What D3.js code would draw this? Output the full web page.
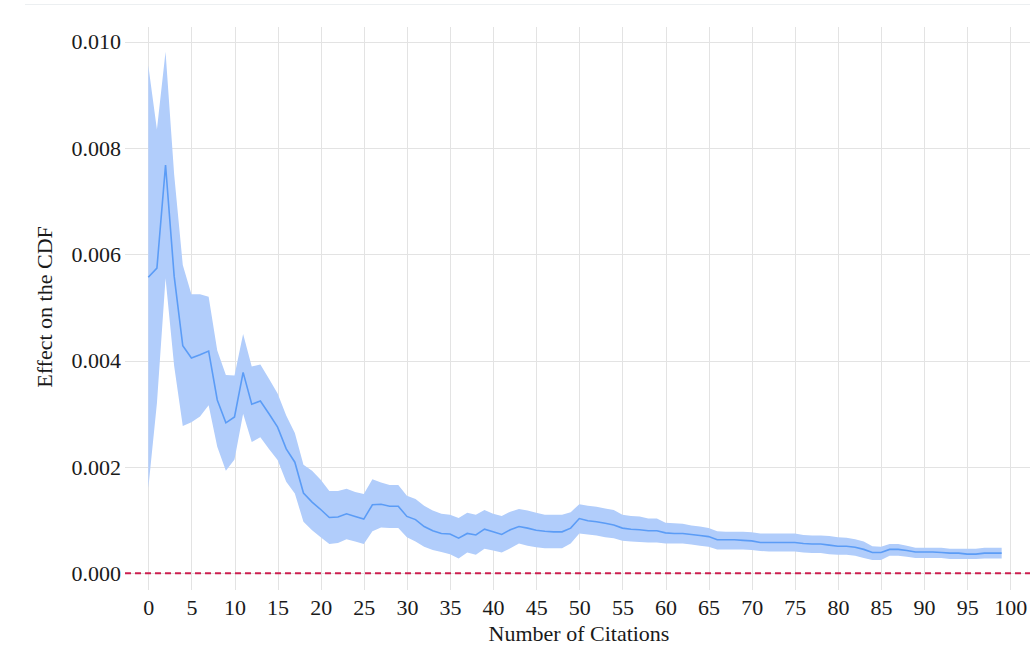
<!DOCTYPE html>
<html>
<head>
<meta charset="utf-8">
<script src="https://cdn.jsdelivr.net/npm/d3@7"></script>
<style>
  html, body { margin: 0; padding: 0; background: #fff; }
  svg { display: block; }
  text { font-family: "Liberation Serif", "Times New Roman", serif; fill: #1a1a1a; }
</style>
</head>
<body>
<svg id="chart" width="1030" height="648"></svg>
<script>
const citations = d3.range(0, 100);
const effectMean = [
  0.00557,0.00574,0.00768,0.00559,0.00428,0.00405,0.00411,0.00418,0.00326,0.00283,
  0.00294,0.00378,0.00318,0.00324,0.00300,0.00275,0.00234,0.00209,0.00151,0.00134,
  0.00120,0.00105,0.00106,0.00112,0.00107,0.00102,0.00129,0.00130,0.00126,0.00126,
  0.00107,0.00101,0.00088,0.00080,0.00075,0.00074,0.00066,0.00075,0.00072,0.00083,
  0.00078,0.00073,0.00082,0.00088,0.00085,0.00081,0.00079,0.00078,0.00078,0.00085,
  0.00103,0.00099,0.00097,0.00094,0.00091,0.00085,0.00083,0.00082,0.00080,0.00080,
  0.00076,0.00075,0.00075,0.00073,0.00071,0.00069,0.00063,0.00063,0.00063,0.00062,
  0.00061,0.00058,0.00058,0.00058,0.00058,0.00058,0.00056,0.00055,0.00055,0.00053,
  0.00051,0.00051,0.00049,0.00045,0.00039,0.00039,0.00045,0.00045,0.00043,0.00040,
  0.00040,0.00040,0.00039,0.00038,0.00038,0.00036,0.00036,0.00038,0.00038,0.00038
];
const effectUpper = [
  0.00955,0.00835,0.00981,0.00750,0.00580,0.00525,0.00525,0.00520,0.00419,0.00373,
  0.00372,0.00450,0.00389,0.00393,0.00366,0.00338,0.00297,0.00264,0.00204,0.00193,
  0.00176,0.00155,0.00155,0.00159,0.00153,0.00149,0.00177,0.00171,0.00166,0.00166,
  0.00146,0.00140,0.00127,0.00118,0.00112,0.00110,0.00104,0.00114,0.00110,0.00119,
  0.00112,0.00108,0.00116,0.00121,0.00118,0.00114,0.00110,0.00110,0.00110,0.00115,
  0.00130,0.00127,0.00125,0.00122,0.00119,0.00110,0.00108,0.00107,0.00103,0.00103,
  0.00095,0.00094,0.00093,0.00090,0.00088,0.00085,0.00079,0.00078,0.00078,0.00078,
  0.00077,0.00075,0.00075,0.00075,0.00075,0.00075,0.00072,0.00071,0.00071,0.00070,
  0.00068,0.00067,0.00064,0.00060,0.00051,0.00050,0.00055,0.00055,0.00052,0.00048,
  0.00048,0.00048,0.00048,0.00046,0.00046,0.00046,0.00046,0.00048,0.00048,0.00048
];
const effectLower = [
  0.00160,0.00320,0.00555,0.00390,0.00277,0.00284,0.00295,0.00316,0.00238,0.00193,
  0.00214,0.00300,0.00247,0.00256,0.00234,0.00213,0.00172,0.00150,0.00097,0.00081,
  0.00068,0.00055,0.00057,0.00064,0.00060,0.00055,0.00079,0.00086,0.00085,0.00085,
  0.00068,0.00060,0.00050,0.00044,0.00040,0.00036,0.00028,0.00039,0.00035,0.00046,
  0.00043,0.00039,0.00047,0.00056,0.00052,0.00049,0.00047,0.00047,0.00047,0.00056,
  0.00075,0.00073,0.00071,0.00068,0.00066,0.00061,0.00060,0.00059,0.00058,0.00058,
  0.00056,0.00056,0.00056,0.00054,0.00052,0.00050,0.00045,0.00045,0.00045,0.00045,
  0.00044,0.00042,0.00041,0.00041,0.00041,0.00041,0.00039,0.00038,0.00038,0.00036,
  0.00035,0.00035,0.00033,0.00029,0.00025,0.00025,0.00033,0.00033,0.00031,0.00029,
  0.00029,0.00029,0.00029,0.00027,0.00027,0.00027,0.00027,0.00028,0.00028,0.00028
];
const xTicks = d3.range(0, 101, 5);
const yTicks = [0, 0.002, 0.004, 0.006, 0.008, 0.010];
const xTitle = "Number of Citations";
const yTitle = "Effect on the CDF";

const data = citations.map((c, i) => ({ x: c, m: effectMean[i], lo: effectLower[i], hi: effectUpper[i] }));

const svg = d3.select("#chart");
const x = d3.scaleLinear().domain([0, 100]).range([148.3, 1010.3]);
const y = d3.scaleLinear().domain([0, 0.01]).range([573.3, 41.7]);
const plotLeft = 125, plotRight = 1030, plotTop = 27, plotBottom = 590;

// faint top border line
svg.append("line").attr("x1", 25).attr("x2", 1030).attr("y1", 4.5).attr("y2", 4.5)
  .attr("stroke", "#eceff1").attr("stroke-width", 1);

// gridlines
const grid = svg.append("g");
grid.selectAll(".gy").data(yTicks).join("line")
  .attr("x1", plotLeft).attr("x2", plotRight)
  .attr("y1", d => Math.round(y(d)) + 0.5).attr("y2", d => Math.round(y(d)) + 0.5)
  .attr("stroke", "#e3e3e3").attr("stroke-width", 1);
grid.selectAll(".gx").data(xTicks).join("line")
  .attr("y1", plotTop).attr("y2", plotBottom)
  .attr("x1", d => Math.round(x(d)) + 0.5).attr("x2", d => Math.round(x(d)) + 0.5)
  .attr("stroke", "#e3e3e3").attr("stroke-width", 1);

// band
svg.append("path").datum(data)
  .attr("d", d3.area().x(d => x(d.x)).y0(d => y(d.lo)).y1(d => y(d.hi)))
  .attr("fill", "#b1cdfb").attr("stroke", "none");

// zero reference line
svg.append("line").attr("x1", plotLeft).attr("x2", plotRight)
  .attr("y1", y(0)).attr("y2", y(0))
  .attr("stroke", "#cc1f4f").attr("stroke-width", 2).attr("stroke-dasharray", "6,4");

// mean line
svg.append("path").datum(data)
  .attr("d", d3.line().x(d => x(d.x)).y(d => y(d.m)))
  .attr("fill", "none").attr("stroke", "#5b9cf6").attr("stroke-width", 1.6);

// axes
const xAxis = d3.axisBottom(x).tickValues(xTicks).tickSize(0).tickPadding(0).tickFormat(d3.format("d"));
const gx = svg.append("g").attr("transform", `translate(0,${598})`).call(xAxis);
gx.select(".domain").remove();
gx.selectAll("text").attr("font-size", 22).attr("dy", "0.75em").attr("fill", "#1a1a1a")
  .style("font-family", '"Liberation Serif", serif');

const yAxis = d3.axisLeft(y).tickValues(yTicks).tickSize(0).tickPadding(0).tickFormat(d3.format(".3f"));
const gy = svg.append("g").attr("transform", `translate(${121},0)`).call(yAxis);
gy.select(".domain").remove();
gy.selectAll("text").attr("font-size", 22).attr("fill", "#1a1a1a")
  .style("font-family", '"Liberation Serif", serif');

// titles
svg.append("text").attr("x", 579).attr("y", 641).attr("text-anchor", "middle")
  .attr("font-size", 22).text(xTitle);
svg.append("text").attr("transform", `translate(52,${307}) rotate(-90)`)
  .attr("text-anchor", "middle").attr("font-size", 22).text(yTitle);
</script>
</body>
</html>
